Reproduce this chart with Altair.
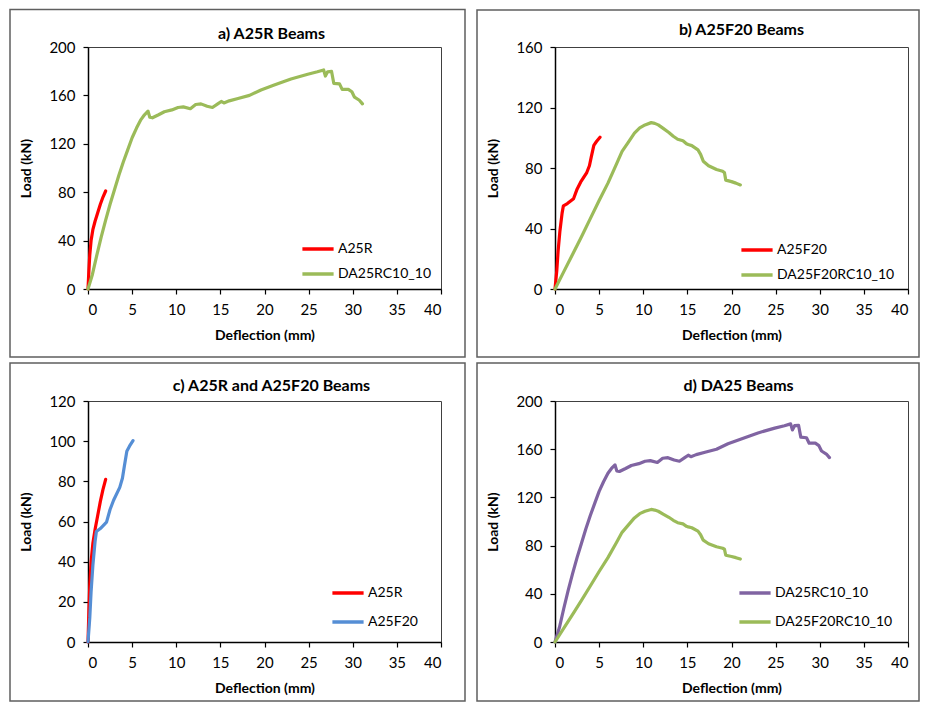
import altair as alt
import pandas as pd

# ---- data ----
A25R_D = [0, 0.1, 0.2, 0.35, 0.55, 0.8, 1.1, 1.4, 1.7, 2.0]
A25R_L = [0, 15, 28, 40, 49, 56, 63, 70, 76, 81]

A25F20_D = [0, 0.2, 0.35, 0.55, 0.8, 0.95, 1.4, 2.1, 2.5, 2.9, 3.6, 3.9, 4.1, 4.4, 4.7, 5.1]
A25F20_L = [0, 12, 25, 38, 50, 55, 56.5, 59.7, 66, 70.6, 77, 81.5, 87, 95, 97.5, 100.3]

DA25RC_D = [0, 0.5, 1.0, 1.5, 2.0, 2.5, 3.0, 3.5, 4.0, 4.5,
            5.0, 5.5, 6.0, 6.4, 6.8, 7.0, 7.3, 8.0, 8.65, 9.5,
            10.2, 10.8, 11.6, 12.2, 12.8, 13.5, 14.1, 14.7, 15.1, 15.4,
            16.0, 17.0, 18.3, 19.6, 21.1, 23.0, 24.9, 26.0, 26.7, 26.9,
            27.15, 27.6, 27.85, 28.5, 28.8, 29.5, 29.9, 30.2, 30.75, 31.1]
DA25RC_L = [0, 12, 28, 43, 57, 70, 82, 94, 105, 115,
            125, 133, 140, 144, 147, 142, 141.5, 144, 146.5, 148,
            150, 150.5, 149, 152.5, 153, 151, 150, 153, 155, 153.8,
            155.5, 157.5, 160, 164.5, 168.5, 173.5, 177.5, 179.5, 181, 176,
            179.5, 179.8, 170, 169.5, 165, 165, 163, 158.5, 156, 153]

DA25F20_D = [0, 1, 2, 3, 4, 5, 6, 7, 7.6, 8.3,
             9.0, 9.6, 10.2, 10.9, 11.3, 11.7, 12.3, 12.9, 13.4, 13.9,
             14.5, 14.9, 15.1, 15.5, 16.2, 16.5, 16.8, 17.4, 18.3, 19.0,
             19.2, 19.35, 20.0, 20.5, 21.0]
DA25F20_L = [0, 11.5, 23, 34.5, 46.5, 58.5, 70, 83, 91, 97,
             103, 106.5, 108.5, 110, 109.5, 108.5, 106, 103.5, 101, 99,
             98, 96, 95.5, 94.8, 92, 89, 84.5, 81.5, 79, 77.8,
             77, 72, 71, 70, 68.8]

SERIES = {
    "A25R": (A25R_D, A25R_L),
    "A25F20": (A25F20_D, A25F20_L),
    "DA25RC10_10": (DA25RC_D, DA25RC_L),
    "DA25F20RC10_10": (DA25F20_D, DA25F20_L),
}

X_TICKS = [0, 5, 10, 15, 20, 25, 30, 35, 40]

RED = "#FF0000"
GREEN = "#9BBB59"
BLUE = "#558ED5"
PURPLE = "#8064A2"

FONT = "Lato"


def series_df(names):
    rows = []
    for n in names:
        d, l = SERIES[n]
        for i, (a, b) in enumerate(zip(d, l)):
            rows.append({"series": n, "idx": i, "d": a, "L": b})
    return pd.DataFrame(rows)


def panel(title, names, colors, ymax, ystep, w, h, lx, ly, rowpad, frame, tdx, toff):
    df = series_df(names)
    lines = alt.Chart(df).mark_line(strokeWidth=3.2, strokeJoin="round", strokeCap="round").encode(
        x=alt.X("d:Q", scale=alt.Scale(domain=[0, 40], nice=False),
                axis=alt.Axis(values=X_TICKS, title="Deflection (mm)")),
        y=alt.Y("L:Q", scale=alt.Scale(domain=[0, ymax], nice=False),
                axis=alt.Axis(values=list(range(0, ymax + 1, ystep)), title="Load (kN)")),
        color=alt.Color("series:N", scale=alt.Scale(domain=names, range=colors), title=None,
                        legend=alt.Legend(orient="none", legendX=lx, legendY=ly, rowPadding=rowpad,
                                          symbolType="M-2.6,0L2.6,0", symbolSize=144,
                                          symbolStrokeWidth=3.5, labelOffset=12, padding=0)),
        order="idx:Q",
    )
    fx1, fx2, fy1, fy2 = frame
    box = alt.Chart(pd.DataFrame({"k": [0]})).mark_rect(
        fillOpacity=0, stroke="#5f5f5f", strokeWidth=1.5
    ).encode(x=alt.value(fx1), x2=alt.value(fx2), y=alt.value(fy1), y2=alt.value(fy2))
    return alt.layer(box, lines).properties(
        width=w, height=h,
        title=alt.TitleParams(title, anchor="middle", frame="group", dx=tdx, offset=toff,
                              baseline="alphabetic"),
    )


pa = panel("a) A25R Beams", ["A25R", "DA25RC10_10"], [RED, GREEN], 200, 40,
           353, 242, 222, 194, 10, (-78, 377, -37.5, 310), 7, -46.5)
pb = panel("b) A25F20 Beams", ["A25F20", "DA25F20RC10_10"], [RED, GREEN], 160, 40,
           353, 242, 194, 195, 10, (-78, 364, -37, 310), 10, -42)
pc = panel("c) A25R and A25F20 Beams", ["A25R", "A25F20"], [RED, BLUE], 120, 20,
           353, 241, 252, 184, 14, (-78, 377, -38, 300), 7, -45)
pd_ = panel("d) DA25 Beams", ["DA25RC10_10", "DA25F20RC10_10"], [PURPLE, GREEN], 200, 40,
            353, 241, 192, 184, 14, (-78, 364, -38, 300), 7, -45)

chart = alt.concat(pa, pb, pc, pd_, columns=2, spacing={"row": 112, "column": 114}, bounds="flush").resolve_scale(
    color="independent", x="independent", y="independent"
).resolve_legend(color="independent").properties(
    padding=0, background="white"
).configure_view(
    stroke="#404040", strokeWidth=1
).configure_axis(
    grid=False, labelFont=FONT, labelFontSize=15, labelColor="black",
    titleFont=FONT, titleFontSize=14, titleFontWeight="bold", titleColor="black",
    domainColor="black", domainWidth=1.5, tickColor="black", tickSize=5, tickWidth=1.2,
    labelPadding=8
).configure_axisX(
    titlePadding=11
).configure_axisY(
    titlePadding=15
).configure_legend(
    labelFont=FONT, labelFontSize=14, labelColor="black"
).configure_title(
    font=FONT, fontSize=16, fontWeight="bold", color="black"
)

chart.save("out.html", embed_options={"renderer": "svg", "actions": False})
